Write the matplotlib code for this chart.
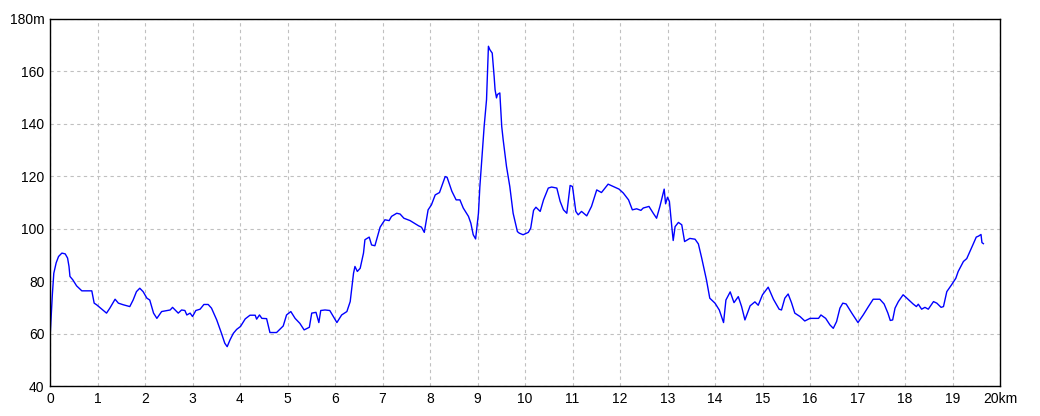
import numpy as np
from matplotlib import pyplot as plt

# distance (km) and elevation (m) read from the profile
km = [0.00, 0.02, 0.05, 0.08, 0.13, 0.18, 0.25, 0.32, 0.37, 0.40, 0.42, 0.48, 0.56, 0.67, 0.84, 0.88,
      0.93, 0.98, 1.09, 1.19, 1.26, 1.37, 1.44, 1.54, 1.68, 1.75, 1.82, 1.89, 1.96, 2.04, 2.10,
      2.18, 2.25, 2.35, 2.53, 2.58, 2.70, 2.77, 2.84, 2.88, 2.95, 3.00, 3.07, 3.16, 3.24, 3.33,
      3.40, 3.51, 3.61, 3.68, 3.73, 3.79, 3.86, 3.93, 4.01, 4.11, 4.21, 4.32, 4.35, 4.41, 4.46,
      4.56, 4.63, 4.77, 4.91, 4.98, 5.07, 5.16, 5.26, 5.35, 5.46, 5.51, 5.60, 5.66, 5.70, 5.79,
      5.89, 6.04, 6.14, 6.25, 6.32, 6.39, 6.42, 6.47, 6.53, 6.60, 6.63, 6.72, 6.77, 6.84, 6.95,
      7.05, 7.14, 7.19, 7.30, 7.37, 7.45, 7.58, 7.76, 7.82, 7.88, 7.96, 8.03, 8.11, 8.20, 8.32,
      8.36, 8.46, 8.55, 8.63, 8.70, 8.81, 8.86, 8.91, 8.96, 9.02, 9.05, 9.09, 9.14, 9.19, 9.23,
      9.26, 9.31, 9.35, 9.37, 9.40, 9.42, 9.47, 9.51, 9.54, 9.61, 9.68, 9.75, 9.84, 9.88, 9.96,
      10.07, 10.12, 10.18, 10.23, 10.32, 10.39, 10.49, 10.56, 10.67, 10.74, 10.81, 10.88, 10.95,
      11.00, 11.07, 11.12, 11.19, 11.30, 11.40, 11.51, 11.61, 11.75, 11.86, 11.98, 12.07, 12.18,
      12.26, 12.35, 12.44, 12.49, 12.61, 12.70, 12.77, 12.84, 12.91, 12.93, 12.96, 13.00, 13.04,
      13.09, 13.12, 13.16, 13.23, 13.30, 13.36, 13.47, 13.58, 13.65, 13.72, 13.82, 13.89, 14.00,
      14.09, 14.18, 14.23, 14.32, 14.40, 14.49, 14.56, 14.63, 14.74, 14.84, 14.91, 15.00, 15.12,
      15.23, 15.35, 15.40, 15.47, 15.54, 15.61, 15.68, 15.79, 15.89, 16.00, 16.18, 16.23, 16.33,
      16.42, 16.49, 16.56, 16.63, 16.69, 16.76, 16.88, 17.01, 17.12, 17.23, 17.33, 17.47, 17.56,
      17.64, 17.69, 17.74, 17.79, 17.86, 17.96, 18.04, 18.17, 18.24, 18.28, 18.35, 18.42, 18.49,
      18.60, 18.67, 18.76, 18.81, 18.88, 18.98, 19.07, 19.12, 19.23, 19.30, 19.37, 19.43, 19.50,
      19.55, 19.60, 19.62, 19.65]
elev = [58.2, 65.0, 75.0, 83.0, 87.0, 89.4, 90.7, 90.4, 88.8, 85.6, 81.8, 80.5, 78.2, 76.3, 76.3, 76.3,
        71.6, 71.0, 69.3, 67.8, 69.7, 73.1, 71.6, 71.0, 70.3, 72.8, 76.0, 77.3, 76.0, 73.5, 72.8,
        67.8, 65.8, 68.4, 69.0, 70.0, 67.8, 69.0, 68.8, 67.1, 67.8, 66.5, 68.8, 69.3, 71.1, 71.1,
        69.7, 65.2, 60.1, 56.3, 55.0, 57.6, 60.1, 61.6, 62.7, 65.6, 67.0, 67.0, 65.5, 67.1, 65.8,
        65.7, 60.4, 60.4, 62.9, 67.1, 68.4, 65.8, 63.9, 61.4, 62.4, 67.8, 68.1, 64.2, 68.8, 69.0,
        68.8, 64.2, 67.1, 68.4, 72.2, 83.0, 85.6, 83.7, 84.9, 90.7, 95.8, 96.8, 93.8, 93.5, 100.6,
        103.4, 103.1, 104.7, 105.9, 105.6, 104.0, 103.1, 101.1, 100.6, 98.6, 107.2, 109.1, 112.9, 113.8, 119.9,
        119.6, 114.3, 111.0, 111.0, 107.9, 104.7, 102.1, 97.7, 96.1, 105.9, 116.1, 126.3, 139.0, 149.2, 169.6,
        168.3, 167.0, 158.1, 153.0, 149.9, 151.2, 151.8, 139.0, 134.0, 123.8, 116.1, 105.9, 98.9, 98.3, 97.7,
        98.6, 100.2, 107.0, 108.2, 106.6, 111.0, 115.5, 115.9, 115.5, 110.4, 107.2, 105.9, 116.5,
        116.1, 106.6, 105.3, 106.6, 104.9, 108.5, 114.8, 113.8, 117.0, 116.1, 115.1, 113.6, 111.0,
        107.2, 107.6, 107.0, 107.9, 108.5, 105.9, 104.0, 108.5, 113.6, 115.1, 109.5, 112.0, 110.4,
        100.8, 95.5, 100.8, 102.4, 101.5, 95.1, 96.3, 96.0, 94.2, 88.8, 80.5, 73.5, 71.6,
        69.0, 64.2, 72.8, 75.9, 71.8, 74.1, 70.3, 65.2, 70.6, 72.1, 70.8, 74.8, 77.7,
        73.1, 69.3, 69.0, 73.5, 75.1, 71.8, 67.8, 66.5, 64.8, 65.8, 65.8, 67.1, 65.8,
        63.3, 62.0, 64.6, 69.7, 71.6, 71.3, 67.8, 64.2, 67.1, 70.3, 73.1, 73.1, 71.3,
        67.8, 65.0, 65.2, 69.7, 72.2, 74.8, 73.5, 71.3, 70.3, 71.2, 69.3, 70.0, 69.3,
        72.2, 71.6, 70.0, 70.3, 76.0, 78.6, 81.1, 83.7, 87.5, 88.6, 91.4, 93.9, 96.8,
        97.2, 97.8, 94.7, 94.3]

xticks = list(range(0, 21))
xlabels = [str(i) for i in range(20)] + ['20km']
yticks = list(range(40, 181, 20))
ylabels = [str(v) for v in yticks[:-1]] + ['180m']

plt.rcParams['font.family'] = ['Liberation Sans', 'DejaVu Sans']
fig = plt.figure(figsize=(10.4, 4.16), dpi=100)
ax = fig.add_axes([50 / 1040, 1 - 386 / 416, 950 / 1040, 367 / 416])

ax.plot(km, elev, color='#0000ff', lw=1)
ax.set_xlim(0, 20)
ax.set_ylim(40, 180)
ax.set_xticks(xticks)
ax.set_xticklabels(xlabels)
ax.set_yticks(yticks)
ax.set_yticklabels(ylabels)
ax.tick_params(length=0, labelsize=10, pad=4, colors='black')
ax.grid(True, color='#c0c0c0', linestyle=(0, (3, 3)), lw=0.8)
for s in ax.spines.values():
    s.set_color('black')
    s.set_linewidth(1)

fig.savefig('out.png', dpi=100)
